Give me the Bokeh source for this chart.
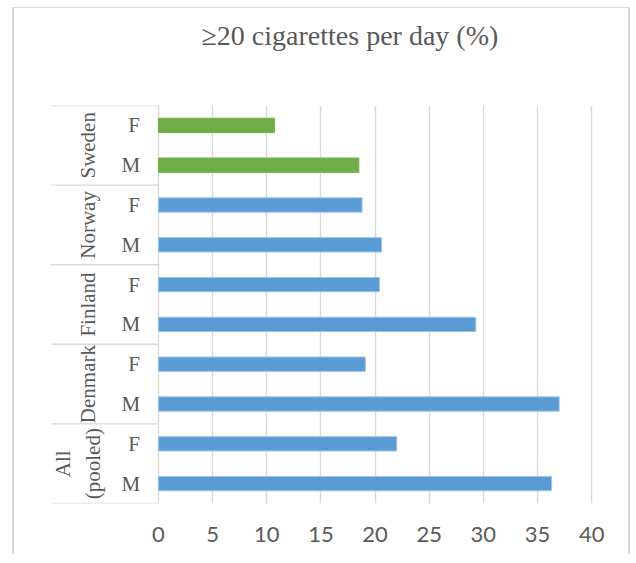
import math
from bokeh.plotting import figure
from bokeh.models import (ColumnDataSource, FactorRange, FixedTicker, Title)
from bokeh.core.properties import value
from bokeh.embed import file_html
from bokeh.resources import INLINE

# ---- data (bottom to top, as Bokeh draws categorical ranges upward) ----
countries = ["All (pooled)", "Denmark", "Finland", "Norway", "Sweden"]
country_labels = ["All\n(pooled)", "Denmark", "Finland", "Norway", "Sweden"]
sexes = ["M", "F"]
male = [36.3, 37.0, 29.3, 20.6, 18.5]
female = [22.0, 19.1, 20.4, 18.8, 10.7]
x_ticks = [0, 5, 10, 15, 20, 25, 30, 35, 40]
title_text = "\u226520 cigarettes per day (%)"

BLUE = "#5b9bd5"
GREEN = "#70ad47"
GRID = "#d9d9d9"
TEXT = "#595959"

factors = [(c, s) for c in countries for s in sexes]
vals = []
for m, f in zip(male, female):
    vals += [m, f]
bar_fill = [GREEN if c == "Sweden" else BLUE for c, s in factors]
bar_line = [GREEN if c == "Sweden" else "#9dc3e6" for c, s in factors]

src = ColumnDataSource(dict(y=factors, v=vals, fill=bar_fill, line=bar_line))

p = figure(
    width=618, height=547,
    x_range=(-12, 41),
    y_range=FactorRange(factors=factors, factor_padding=0, group_padding=0,
                        subgroup_padding=0, range_padding=0),
    y_axis_location=None,
    output_backend="svg", toolbar_location=None,
    min_border_left=14, min_border_right=30,
    min_border_top=97, min_border_bottom=52,
    styles={"margin-left": "12px",
            "margin-top": "7px",
            "border-left": "2px solid #d9d9d9",
            "border-right": "2px solid #d9d9d9",
            "border-top": "1px solid #d9d9d9"},
)
p.outline_line_color = None
p.background_fill_color = "white"
p.border_fill_color = "white"

# spacer panel between the frame and the title (nearest the frame)
p.add_layout(Title(text=" ", text_font_size="1px", standoff=40), "above")
# title
p.add_layout(Title(text=title_text, text_font="Liberation Serif",
                   text_font_size="28px", text_font_style="normal",
                   text_color=TEXT, align="left", offset=173, standoff=20,
                   vertical_align="top"), "above")

# x axis
xa = p.xaxis[0]
xa.ticker = FixedTicker(ticks=x_ticks)
xa.axis_line_color = None
xa.major_tick_line_color = None
xa.minor_tick_line_color = None
xa.major_label_standoff = 17
xa.major_label_text_font = "Lato"
xa.major_label_text_font_size = "22px"
xa.major_label_text_color = TEXT

p.xgrid.ticker = FixedTicker(ticks=x_ticks)
p.xgrid.grid_line_color = GRID
p.xgrid.grid_line_width = 1.4
p.ygrid.grid_line_color = None

# bars
p.hbar(y="y", left=0, right="v", height=0.36, source=src,
       fill_color="fill", line_color="line", line_width=1)

# category (inner level) labels
lab_src = ColumnDataSource(dict(y=factors, t=[s for c, s in factors]))
p.text(x=-1.7, y="y", text="t", source=lab_src, text_align="right",
       text_baseline="middle", text_font=value("Liberation Serif"),
       text_font_size="21px", text_color=TEXT)

# group (outer level) labels, rotated
gx = [-6.5 - 0.95 * (lab.count("\n")) for lab in country_labels]
grp_src = ColumnDataSource(dict(y=countries, t=country_labels, x=gx))
p.text(x="x", y="y", text="t", source=grp_src, angle=math.pi / 2,
       text_align="center", text_baseline="middle",
       text_font=value("Liberation Serif"), text_font_size="21px",
       text_color=TEXT, text_line_height=1.25)

# group separators of the category axis
sep_y = [(countries[0], -1.0)] + [(c, 1.0) for c in countries]
sep_src = ColumnDataSource(dict(y=sep_y))
p.segment(x0=-9.9, x1=0, y0="y", y1="y", source=sep_src,
          line_color=GRID, line_width=1.4)

open("out.html", "w").write(file_html(p, INLINE))
